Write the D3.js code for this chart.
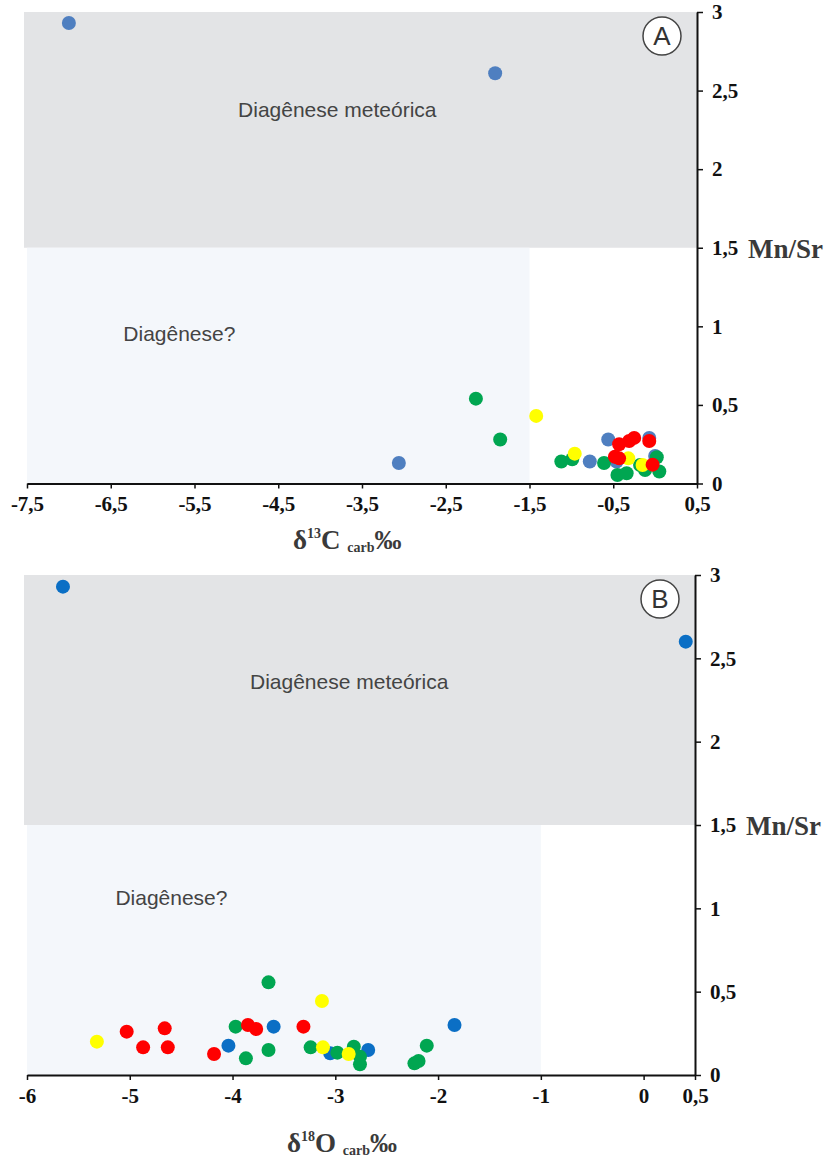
<!DOCTYPE html>
<html>
<head>
<meta charset="utf-8">
<script src="https://cdn.jsdelivr.net/npm/d3@7"></script>
<style>
  body { margin: 0; background: #fff; }
  svg { display: block; }
</style>
</head>
<body>
<div id="chart"></div>
<script>
// Mn/Sr vs d13C (panel A) and d18O (panel B)
// values, [x, y]
const carbBlue = [[-7.0, 2.93], [-1.91, 2.61], [-3.06, 0.13], [-0.78, 0.14], [-0.56, 0.28], [-0.07, 0.29], [-0.46, 0.14], [0.0, 0.175]];
const carbGreen = [[-2.14, 0.54], [-1.85, 0.28], [-1.12, 0.14], [-0.99, 0.154], [-0.61, 0.13], [-0.45, 0.054], [-0.34, 0.065], [-0.18, 0.118], [-0.12, 0.086], [0.02, 0.167], [0.05, 0.076]];
const carbYellow = [[-1.42, 0.43], [-0.96, 0.19], [-0.32, 0.16], [-0.15, 0.118]];
const carbRed = [[-0.43, 0.25], [-0.31, 0.27], [-0.25, 0.29], [-0.07, 0.27], [-0.48, 0.17], [-0.43, 0.16], [-0.03, 0.12]];

const oxyBlue = [[-5.65, 2.93], [0.41, 2.60], [-4.04, 0.176], [-3.60, 0.29], [-3.05, 0.13], [-2.68, 0.15], [-1.84, 0.30]];
const oxyGreen = [[-3.65, 0.556], [-3.97, 0.29], [-3.87, 0.10], [-3.65, 0.15], [-3.24, 0.166], [-2.98, 0.134], [-2.82, 0.17], [-2.76, 0.11], [-2.76, 0.064], [-2.23, 0.07], [-2.11, 0.176], [-2.19, 0.084]];
const oxyYellow = [[-5.32, 0.20], [-3.13, 0.444], [-3.12, 0.166], [-2.87, 0.126]];
const oxyRed = [[-5.03, 0.26], [-4.66, 0.28], [-4.87, 0.166], [-4.63, 0.166], [-4.18, 0.126], [-3.85, 0.30], [-3.77, 0.276], [-3.31, 0.29]];

const carbTicks = [-7.5, -6.5, -5.5, -4.5, -3.5, -2.5, -1.5, -0.5, 0.5];
const oxyTicks = [-6, -5, -4, -3, -2, -1, 0, 0.5];
const mnsrTicks = [0, 0.5, 1, 1.5, 2, 2.5, 3];

const width = 829;
const height = 1160;

const locale = d3.formatLocale({ decimal: ',', thousands: '.', grouping: [3], currency: ['', ''], minus: '-' });
const fmt = locale.format('~g');

const svg = d3.select('#chart')
  .append('svg')
  .attr('width', width)
  .attr('height', height);

const serif = '"Liberation Serif", "Times New Roman", serif';
const sans = '"Liberation Sans", Arial, sans-serif';

function drawPanel(p) {
  const x = d3.scaleLinear().domain(p.xDomain).range([p.left, p.right]);
  const y = d3.scaleLinear().domain([0, 3]).range([p.bottom, p.top]);
  const g = svg.append('g');

  // shaded zones
  g.append('rect')
    .attr('x', x(p.xDomain[0]) - 3)
    .attr('y', y(3))
    .attr('width', x(p.xDomain[1]) - x(p.xDomain[0]) + 3)
    .attr('height', y(1.5) - y(3))
    .attr('fill', '#e3e4e6');
  g.append('rect')
    .attr('x', x(p.xDomain[0]))
    .attr('y', y(1.5))
    .attr('width', x(p.split) - x(p.xDomain[0]))
    .attr('height', y(0) - y(1.5))
    .attr('fill', '#f4f7fb');

  g.append('text')
    .attr('x', x(p.meteoricX))
    .attr('y', p.meteoricY)
    .style('font-family', sans)
    .style('font-size', '21px')
    .attr('fill', '#444')
    .text('Diagênese meteórica');
  g.append('text')
    .attr('x', x(p.questionX))
    .attr('y', p.questionY)
    .style('font-family', sans)
    .style('font-size', '21px')
    .attr('fill', '#444')
    .text('Diagênese?');

  // panel letter
  g.append('circle')
    .attr('cx', p.right - 35)
    .attr('cy', y(3) + 24)
    .attr('r', 19)
    .attr('fill', '#fff')
    .attr('stroke', '#444')
    .attr('stroke-width', 1.5);
  g.append('text')
    .attr('x', p.right - 35)
    .attr('y', y(3) + 33)
    .attr('text-anchor', 'middle')
    .style('font-family', sans)
    .style('font-size', '26px')
    .attr('fill', '#333')
    .text(p.letter);

  // points
  const series = [
    { pts: p.blue, color: p.blueColor },
    { pts: p.green, color: '#00a651' },
    { pts: p.yellow, color: '#ffff00' },
    { pts: p.red, color: '#ff0000' }
  ];
  series.forEach(s => {
    g.append('g').selectAll('circle')
      .data(s.pts)
      .join('circle')
      .attr('cx', d => x(d[0]))
      .attr('cy', d => y(d[1]))
      .attr('r', 7)
      .attr('fill', s.color);
  });

  // axes
  const xAxis = g.append('g')
    .attr('transform', `translate(0,${p.bottom})`)
    .call(d3.axisBottom(x).tickValues(p.xTicks).tickFormat(p.xFmt).tickSize(5).tickSizeOuter(0).tickPadding(8));
  const yAxis = g.append('g')
    .attr('transform', `translate(${p.right},0)`)
    .call(d3.axisRight(y).tickValues(mnsrTicks).tickFormat(fmt).tickSize(6).tickSizeOuter(0).tickPadding(9));

  [xAxis, yAxis].forEach(a => {
    a.attr('font-family', null).attr('font-size', null);
    a.select('.domain').attr('stroke', '#111').attr('stroke-width', 2);
    a.selectAll('.tick line').attr('stroke', '#111').attr('stroke-width', 1.5);
    a.selectAll('.tick text')
      .attr('font-family', serif)
      .attr('font-size', 21)
      .attr('font-weight', 'bold')
      .attr('fill', '#111');
  });

  // axis titles
  g.append('text')
    .attr('x', p.right + 51)
    .attr('y', y(1.5) + 10)
    .style('font-family', serif)
    .style('font-size', '27px')
    .style('font-weight', 'bold')
    .attr('fill', '#3a3a3a')
    .text('Mn/Sr');

  const t = g.append('text')
    .attr('x', p.titleX)
    .attr('y', p.titleY)
    .style('font-family', serif)
    .style('font-weight', 'bold')
    .attr('fill', '#3a3a3a');
  t.append('tspan').style('font-size', '27px').text('δ');
  t.append('tspan').style('font-size', '14px').attr('dy', -11).text(p.iso);
  t.append('tspan').style('font-size', '27px').attr('dy', 11).text(p.elem + ' ');
  t.append('tspan').style('font-size', '14px').attr('dy', 3).text('carb');
  t.append('tspan').style('font-size', '27px').attr('dy', -3).text('‰');
}

drawPanel({
  letter: 'A',
  xDomain: [-7.5, 0.5], left: 27, right: 697, top: 12, bottom: 483.5,
  split: -1.5, xTicks: carbTicks, xFmt: locale.format('.1f'),
  blue: carbBlue, green: carbGreen, yellow: carbYellow, red: carbRed, blueColor: '#4f7fc0',
  meteoricX: -4.98, meteoricY: 117, questionX: -6.35, questionY: 341,
  titleX: 293, titleY: 549, iso: '13', elem: 'C'
});

drawPanel({
  letter: 'B',
  xDomain: [-6, 0.5], left: 27, right: 695, top: 575, bottom: 1075,
  split: -1, xTicks: oxyTicks, xFmt: fmt,
  blue: oxyBlue, green: oxyGreen, yellow: oxyYellow, red: oxyRed, blueColor: '#0b6fc5',
  meteoricX: -3.83, meteoricY: 689, questionX: -5.14, questionY: 905,
  titleX: 287, titleY: 1152, iso: '18', elem: 'O'
});
</script>
</body>
</html>
